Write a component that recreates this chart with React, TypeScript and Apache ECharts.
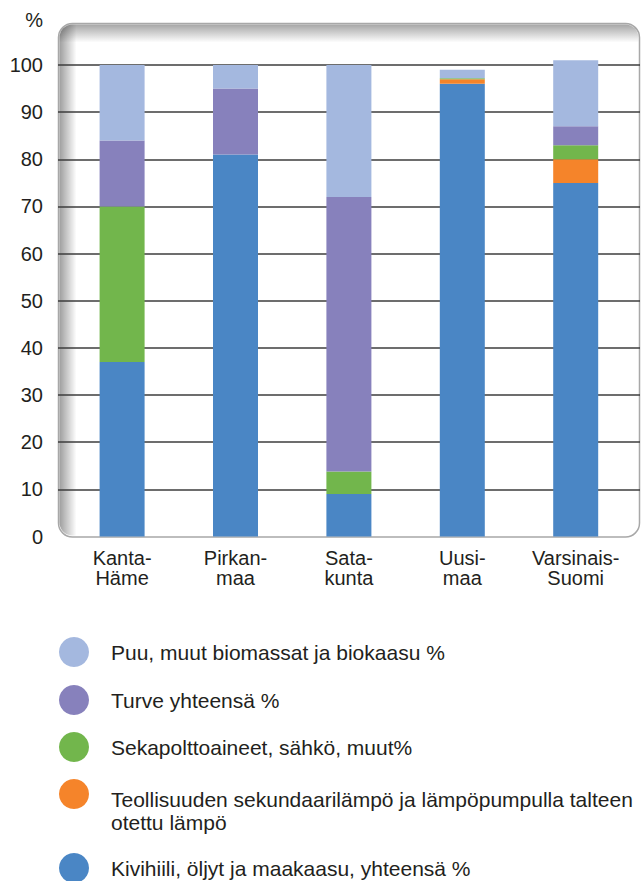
import React, { useEffect, useRef } from "react";
import * as echarts from "echarts";

const categories = ["Kanta-\nHäme", "Pirkan-\nmaa", "Sata-\nkunta", "Uusi-\nmaa", "Varsinais-\nSuomi"];
const kivihiili = [37, 81, 9, 96, 75];
const teollisuus = [0, 0, 0, 1, 5];
const sekapolt = [33, 0, 4.8, 0.2, 3];
const turve = [14, 14, 58.2, 0, 4];
const puu = [16, 5, 28, 1.8, 14];
const yTicks = { min: 0, max: 100, interval: 10 };

const names = {
  puu: "Puu, muut biomassat ja biokaasu %",
  turve: "Turve yhteensä %",
  sekapolt: "Sekapolttoaineet, sähkö, muut%",
  teollisuus: "Teollisuuden sekundaarilämpö ja lämpöpumpulla talteen\notettu lämpö",
  kivihiili: "Kivihiili, öljyt ja maakaasu, yhteensä %",
};
const colors = {
  puu: "#A4B8DF",
  turve: "#8781BC",
  sekapolt: "#72B64C",
  teollisuus: "#F5842A",
  kivihiili: "#4A86C5",
};

const FONT = "'Liberation Sans', Arial, sans-serif";
const TXT = "#231f20";

export default function App() {
  const ref = useRef<HTMLDivElement>(null);
  useEffect(() => {
    if (!ref.current) return;
    const chart = echarts.init(ref.current, null, { renderer: "svg" });
    const legendBase = {
      orient: "vertical",
      left: 59,
      padding: 0,
      itemWidth: 30,
      itemHeight: 30,
      icon: "circle",
      textStyle: { fontSize: 21, fontFamily: FONT, color: TXT, lineHeight: 23, padding: [0, 0, 0, 17] },
    };
    const bar = (key: keyof typeof names, data: number[]) => ({
      name: names[key],
      type: "bar",
      stack: "total",
      xAxisIndex: 1,
      yAxisIndex: 1,
      barWidth: 45,
      clip: false,
      data,
      itemStyle: { color: colors[key] },
      emphasis: { disabled: true },
    });
    chart.setOption({
      animation: false,
      backgroundColor: "#ffffff",
      textStyle: { fontFamily: FONT },
      graphic: {
        elements: [
          {
            type: "rect",
            z: -10,
            shape: { x: 58.5, y: 23.5, width: 581, height: 513.5, r: 14 },
            style: { fill: "#ffffff", stroke: "#a8a8a8", lineWidth: 1.5 },
          },
          {
            type: "rect",
            z: -9,
            shape: { x: 59.5, y: 24.5, width: 579, height: 18, r: [13, 13, 0, 0] },
            style: {
              fill: new echarts.graphic.LinearGradient(0, 0, 0, 1, [
                { offset: 0, color: "rgba(0,0,0,0.35)" },
                { offset: 1, color: "rgba(0,0,0,0)" },
              ]),
            },
          },
          {
            type: "rect",
            z: -9,
            shape: { x: 59.5, y: 24.5, width: 17, height: 511, r: [13, 0, 0, 13] },
            style: {
              fill: new echarts.graphic.LinearGradient(0, 0, 1, 0, [
                { offset: 0, color: "rgba(0,0,0,0.38)" },
                { offset: 1, color: "rgba(0,0,0,0)" },
              ]),
            },
          },
        ],
      },
      grid: [
        { left: 58, right: 1, top: 65, bottom: 344.5, containLabel: false },
        { left: 65.4, right: 8.6, top: 65, bottom: 344.5, containLabel: false },
      ],
      xAxis: [
        { type: "value", gridIndex: 0, show: false },
        {
          type: "category",
          gridIndex: 1,
          data: categories,
          axisLine: { show: false },
          axisTick: { show: false },
          axisLabel: { fontSize: 20, lineHeight: 20, color: TXT, margin: 11, fontFamily: FONT, interval: 0 },
        },
      ],
      yAxis: [
        {
          type: "value",
          gridIndex: 0,
          ...yTicks,
          name: "%",
          nameLocation: "end",
          nameGap: 45,
          nameTextStyle: { fontSize: 20, color: TXT, align: "right", verticalAlign: "middle", padding: [0, 15, 0, 0], fontFamily: FONT },
          axisLine: { show: false },
          axisTick: { show: false },
          axisLabel: { fontSize: 20, color: TXT, margin: 15, fontFamily: FONT },
          splitLine: { show: true, showMinLine: false, lineStyle: { color: "#3c3c3c", width: 1.5 } },
        },
        { type: "value", gridIndex: 1, ...yTicks, show: false, splitLine: { show: false } },
      ],
      legend: [
        { ...legendBase, top: 637, data: [names.puu] },
        { ...legendBase, top: 685, data: [names.turve] },
        { ...legendBase, top: 732, data: [names.sekapolt] },
        {
          ...legendBase,
          top: 754.5,
          data: [names.teollisuus],
          formatter: (n: string) =>
            "{s| }\n" + n.split("\n").map((l) => "{t|" + l + "}").join("\n"),
          textStyle: {
            ...legendBase.textStyle,
            rich: {
              s: { fontSize: 21, lineHeight: 33, fontFamily: FONT },
              t: { fontSize: 21, lineHeight: 23, fontFamily: FONT, color: TXT },
            },
          },
        },
        { ...legendBase, top: 853, data: [names.kivihiili] },
      ],
      series: [
        bar("kivihiili", kivihiili),
        bar("teollisuus", teollisuus),
        bar("sekapolt", sekapolt),
        bar("turve", turve),
        bar("puu", puu),
      ],
    });
    return () => chart.dispose();
  }, []);
  return <div ref={ref} style={{ position: "fixed", left: 0, top: 0, width: 641, height: 881 }} />;
}
